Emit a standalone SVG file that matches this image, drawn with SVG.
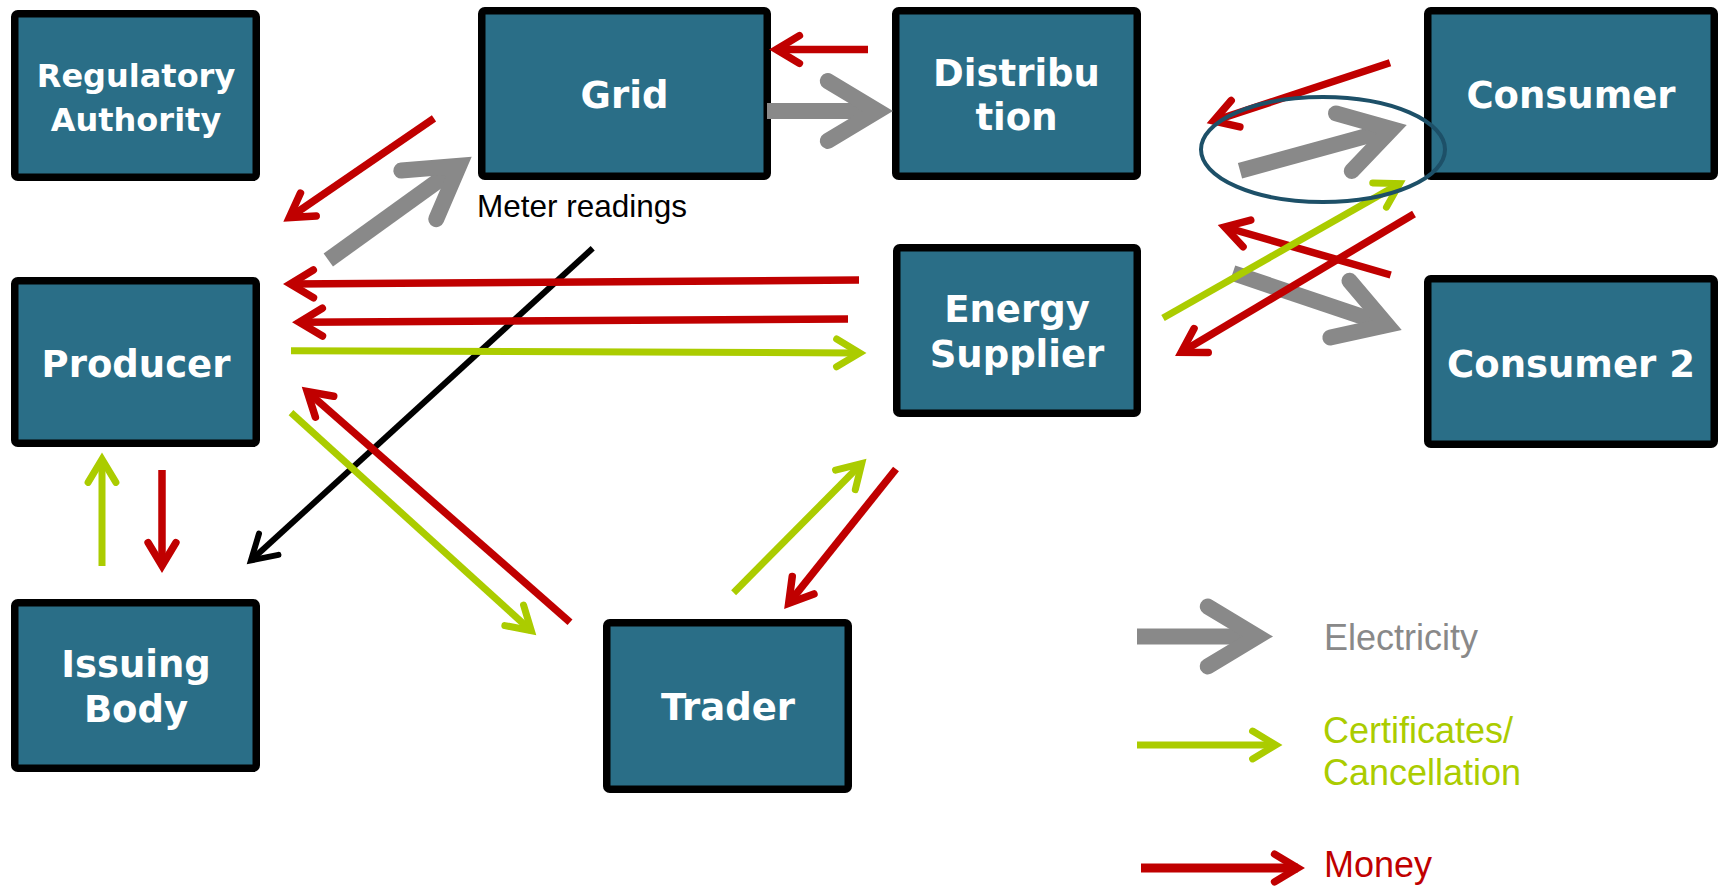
<svg xmlns="http://www.w3.org/2000/svg" width="1718" height="887" viewBox="0 0 1718 887">
<style>
.box{fill:#2A6E87;stroke:#000;stroke-width:7.5}
.lbl{font-family:"DejaVu Sans",Verdana,sans-serif;font-weight:bold;fill:#fff;font-size:37px;text-anchor:middle}
.sm{font-size:32px}
.c{fill:none;stroke-linecap:butt}
.gray{stroke:#898989;stroke-width:16;marker-end:url(#hGray)}
.red{stroke:#C00000;stroke-width:7.5;marker-end:url(#hRed)}
.green{stroke:#ABCC00;stroke-width:7;marker-end:url(#hGreen)}
.black{stroke:#000;stroke-width:6;marker-end:url(#hBlack)}
.note{font-family:"Liberation Sans",Arial,sans-serif;font-size:31.5px;fill:#000}
.leg{font-family:"Liberation Sans",Arial,sans-serif;font-size:36px}
</style>
<defs>
<marker id="hGray" markerUnits="userSpaceOnUse" orient="auto" refX="0" refY="0" markerWidth="10" markerHeight="10" style="overflow:visible">
<path d="M-49.7,-29.9 L0,0 L-49.7,29.9" fill="none" stroke="#898989" stroke-width="16" stroke-linecap="round" stroke-linejoin="miter"/>
</marker>
<marker id="hRed" markerUnits="userSpaceOnUse" orient="auto" refX="0" refY="0" markerWidth="10" markerHeight="10" style="overflow:visible">
<path d="M-23.1,-13.9 L0,0 L-23.1,13.9" fill="none" stroke="#C00000" stroke-width="7.5" stroke-linecap="round" stroke-linejoin="miter"/>
</marker>
<marker id="hGreen" markerUnits="userSpaceOnUse" orient="auto" refX="0" refY="0" markerWidth="10" markerHeight="10" style="overflow:visible">
<path d="M-23.1,-13.9 L0,0 L-23.1,13.9" fill="none" stroke="#ABCC00" stroke-width="7" stroke-linecap="round" stroke-linejoin="miter"/>
</marker>
<marker id="hBlack" markerUnits="userSpaceOnUse" orient="auto" refX="0" refY="0" markerWidth="10" markerHeight="10" style="overflow:visible">
<path d="M-24,-14.4 L0,0 L-24,14.4" fill="none" stroke="#000" stroke-width="6" stroke-linecap="round" stroke-linejoin="miter"/>
</marker>
</defs>
<rect width="1718" height="887" fill="#fff"/>
<g id="nodes">
<g id="node-regulatory">
<rect class="box" x="14.75" y="13.75" width="241.5" height="163.5" rx="3"/>
<text class="lbl sm" x="136" y="87">Regulatory</text>
<text class="lbl sm" x="136" y="130.5">Authority</text>
</g>
<g id="node-grid">
<rect class="box" x="481.75" y="10.75" width="285.5" height="165.5" rx="3"/>
<text class="lbl" x="624.5" y="108">Grid</text>
</g>
<g id="node-distribution">
<rect class="box" x="895.75" y="10.75" width="241.5" height="165.5" rx="3"/>
<text class="lbl" x="1016.5" y="85.5">Distribu</text>
<text class="lbl" x="1016.5" y="130">tion</text>
</g>
<g id="node-consumer">
<rect class="box" x="1427.75" y="10.75" width="286.5" height="165.5" rx="3"/>
<text class="lbl" x="1571" y="107.5">Consumer</text>
</g>
<g id="node-producer">
<rect class="box" x="14.75" y="280.75" width="241.5" height="162.5" rx="3"/>
<text class="lbl" x="136" y="377">Producer</text>
</g>
<g id="node-energy-supplier">
<rect class="box" x="896.75" y="247.75" width="240.5" height="165.5" rx="3"/>
<text class="lbl" x="1017" y="321.5">Energy</text>
<text class="lbl" x="1017" y="366.5">Supplier</text>
</g>
<g id="node-consumer2">
<rect class="box" x="1427.75" y="278.75" width="286.5" height="165.5" rx="3"/>
<text class="lbl" x="1571" y="377">Consumer 2</text>
</g>
<g id="node-issuing-body">
<rect class="box" x="14.75" y="602.75" width="241.5" height="165.5" rx="3"/>
<text class="lbl" x="136" y="677">Issuing</text>
<text class="lbl" x="136" y="721.5">Body</text>
</g>
<g id="node-trader">
<rect class="box" x="606.75" y="622.75" width="241.5" height="166.5" rx="3"/>
<text class="lbl" x="728" y="720">Trader</text>
</g>
</g>
<g id="connectors">
<path class="c black" d="M592.7,248.3 L251,560.4"/>
<path class="c gray" d="M767,111 L877.5,111"/>
<path class="c gray" d="M328.3,260 L459.1,165.8"/>
<path class="c gray" d="M1240,170.7 L1391.8,129.1"/>
<path class="c gray" d="M1232.7,273 L1387,325"/>
<path class="c red" d="M868,49.5 L776.3,49.5"/>
<path class="c red" d="M434,118.3 L289.3,217.6"/>
<path class="c red" d="M859,280 L290.3,284"/>
<path class="c red" d="M848,319 L299.3,322.3"/>
<path class="c red" d="M570,622.3 L307.2,391.5"/>
<path class="c red" d="M162,470 L162,565.7"/>
<path class="c red" d="M896,469 L788.7,603.3"/>
<path class="c red" d="M1390,62.7 L1213.6,121"/>
<path class="c red" d="M1390.7,275 L1224.7,227"/>
<path class="c red" d="M1414,214 L1181.3,352.3"/>
<path class="c green" d="M291,350.7 L859.7,353"/>
<path class="c green" d="M291,412.7 L531.3,630.8"/>
<path class="c green" d="M102,566 L102,459.3"/>
<path class="c green" d="M733.6,592.7 L861.7,463.5"/>
<path class="c green" d="M1163,318 L1399.7,183.6"/>
</g>
<ellipse id="highlight" cx="1323" cy="149.5" rx="122" ry="52.5" fill="none" stroke="#1D5068" stroke-width="4"/>
<text id="meter-readings" class="note" x="477" y="217">Meter readings</text>
<g id="legend">
<path class="c gray" d="M1137,636.5 L1257.5,636.5"/>
<text class="leg" x="1324" y="650" fill="#898989">Electricity</text>
<path class="c green" d="M1137,745 L1275.7,745"/>
<text class="leg" x="1323" y="743" fill="#ABCC00">Certificates/</text>
<text class="leg" x="1323" y="785" fill="#ABCC00">Cancellation</text>
<path class="c red" style="stroke-width:9" d="M1141,868 L1297.7,868"/>
<text class="leg" x="1324" y="877" fill="#C00000">Money</text>
</g>
</svg>
